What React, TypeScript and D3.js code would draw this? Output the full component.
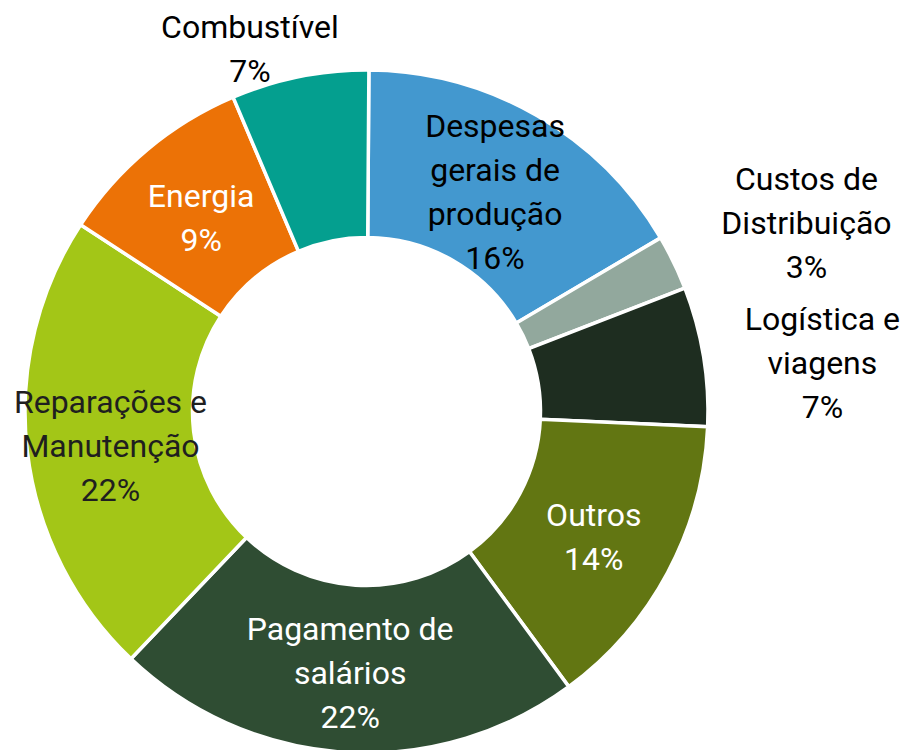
import React from "react";
import * as d3 from "d3";

// ---- data ----
const categories = [
  "Despesas gerais de produção",
  "Custos de Distribuição",
  "Logística e viagens",
  "Outros",
  "Pagamento de salários",
  "Reparações e Manutenção",
  "Energia",
  "Combustível",
];
const labelLines = [
  ["Despesas", "gerais de", "produção"],
  ["Custos de", "Distribuição"],
  ["Logística e", "viagens"],
  ["Outros"],
  ["Pagamento de", "salários"],
  ["Reparações e", "Manutenção"],
  ["Energia"],
  ["Combustível"],
];
const values = [16.4, 2.6, 6.6, 14.2, 22.2, 22.1, 9.4, 6.5];

// ---- styles ----
const colors = [
  "#4398CF",
  "#92A89D",
  "#1E2D20",
  "#627612",
  "#2F4D33",
  "#A3C617",
  "#EC7206",
  "#049F8F",
];
const textColors = ["#000", "#000", "#000", "#fff", "#fff", "#1f1f1f", "#fff", "#000"];
const outside = [false, true, true, false, false, false, false, true];
// outside label placement: radius along mid-angle and nudge
const outsideRadius = [0, 489, 462, 0, 0, 0, 0, 370.5];
const outsideNudge: [number, number][] = [
  [0, 0],
  [0, 25],
  [0, 26],
  [0, 0],
  [0, 0],
  [0, 0],
  [0, 0],
  [-44, 0],
];
const insideShift = 4;

const W = 905;
const H = 750;
const cx = 366.5;
const cy = 411.5;
const R = 341.5;
const r = 174;
const FS = 32;
const LH = 44;
const CAP = 0.711 * FS;
const START = 0.007;

export default function App() {
  const pie = d3
    .pie<number>()
    .sort(null)
    .value((d) => d)
    .startAngle(START)
    .endAngle(2 * Math.PI + START);
  const arcs = pie(values);
  const arc = d3.arc<d3.PieArcDatum<number>>().innerRadius(r).outerRadius(R);

  return (
    <svg
      width={W}
      height={H}
      style={{ position: "absolute", left: 0, top: 0, display: "block", background: "#fff" }}
      fontFamily="Roboto, 'Noto Sans', sans-serif"
    >
      <g transform={`translate(${cx},${cy})`}>
        {arcs.map((a, i) => (
          <path key={categories[i]} d={arc(a) || ""} fill={colors[i]} stroke="#fff" strokeWidth={3.5} />
        ))}
        {arcs.map((a, i) => {
          const lines = [...labelLines[i], `${Math.round(values[i])}%`];
          let x: number;
          let y: number;
          if (outside[i]) {
            const mid = (a.startAngle + a.endAngle) / 2;
            x = Math.sin(mid) * outsideRadius[i] + outsideNudge[i][0];
            y = -Math.cos(mid) * outsideRadius[i] + outsideNudge[i][1];
          } else {
            const c = arc.centroid(a);
            x = c[0];
            y = c[1] + insideShift;
          }
          const n = lines.length;
          const b1 = y - ((n - 1) * LH - CAP) / 2;
          return (
            <text key={"t" + i} textAnchor="middle" fontSize={FS} fill={textColors[i]}>
              {lines.map((l, j) => (
                <tspan key={j} x={x} y={b1 + j * LH}>
                  {l}
                </tspan>
              ))}
            </text>
          );
        })}
      </g>
    </svg>
  );
}
